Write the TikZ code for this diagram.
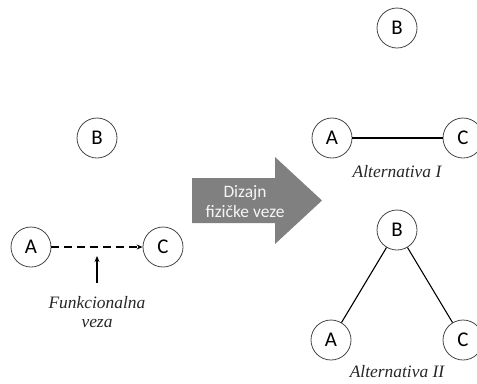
\documentclass[tikz,border=0pt]{standalone}
\usepackage{fontspec}
\setmainfont{Liberation Serif}
\newfontfamily\labelsans{Carlito}
\usetikzlibrary{arrows.meta}
\definecolor{ringgray}{RGB}{70,70,70}
\definecolor{arrowgray}{RGB}{128,128,128}
\definecolor{arrowtext}{RGB}{245,245,245}
\tikzset{
  site/.style={circle, draw=ringgray, line width=0.8bp, minimum size=40bp, inner sep=0pt,
    font=\labelsans\fontsize{21}{21}\selectfont},
  link/.style={line width=1.1bp, black},
  caption/.style={font=\itshape\fontsize{17.5}{20}\selectfont, align=center, text=black!85},
  tip/.style={-{Stealth[length=6bp,width=5bp]}, line width=1.1bp, black}
}
\begin{document}
\begin{tikzpicture}[x=1bp,y=-1bp]
  \useasboundingbox (0,0) rectangle (477,383);

  % functional link between A and C
  \node[site] (lb) at (97,138) {B};
  \node[site] (la) at (31,247) {A};
  \node[site] (lc) at (163,247) {C};
  \draw[tip, dash pattern=on 8bp off 5bp] (la) -- (lc);
  \coordinate (ptr) at (97,283);
  \coordinate (ptrend) at (97,256);
  \draw[tip] (ptr) -- (ptrend);
  \node[caption] (fv) at (97,312) {Funkcionalna\\veza};

  % block arrow: physical link design
  \fill[arrowgray] (192,178) -- (275,178) -- (275,157) -- (322,200.5)
    -- (275,244) -- (275,223) -- (192,223) -- cycle;
  \node[font=\labelsans\fontsize{17.5}{20}\selectfont, text=arrowtext, align=center]
    (design) at (245,202) {Dizajn\\fizičke veze};

  % alternative I
  \node[site] (ib) at (397,28) {B};
  \node[site] (ia) at (332,138) {A};
  \node[site] (ic) at (463,138) {C};
  \draw[link] (ia) -- (ic);
  \node[caption] (capi) at (397,172) {Alternativa I};

  % alternative II
  \node[site] (iib) at (397,230) {B};
  \node[site] (iia) at (331,340) {A};
  \node[site] (iic) at (463,340) {C};
  \draw[link] (iib) -- (iia);
  \draw[link] (iib) -- (iic);
  \node[caption] (capii) at (397,372) {Alternativa II};
\end{tikzpicture}
\end{document}
